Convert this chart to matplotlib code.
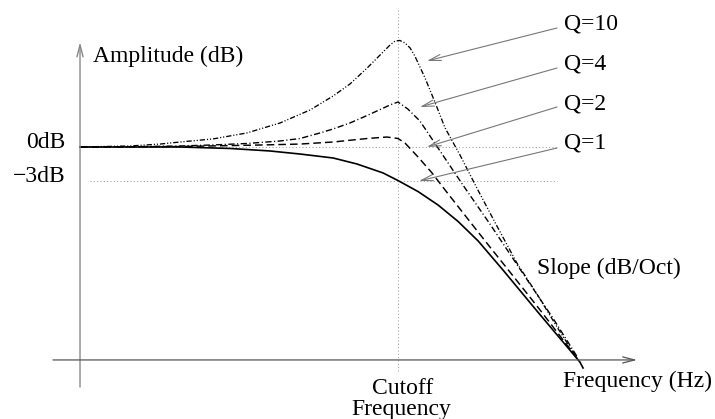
import matplotlib
matplotlib.use("Agg")
import matplotlib.pyplot as plt

plt.rcParams['font.family'] = ['Liberation Serif', 'DejaVu Serif']
plt.rcParams['lines.scale_dashes'] = False

# frequency normalised to cutoff (0 = amplitude axis, 1 = cutoff), amplitude in dB
# values read off the schematic
q1_f = [0.000, 0.314, 0.472, 0.597, 0.692, 0.796, 0.871, 0.953, 1.000, 1.063,
        1.126, 1.189, 1.252, 1.330, 1.437, 1.572, 1.582]
q1_db = [0.00, 0.00, -0.13, -0.35, -0.62, -0.97, -1.50, -2.29, -2.96, -3.93,
         -5.12, -6.57, -8.29, -10.85, -14.47, -18.97, -19.50]

q2_f = [0.000, 0.314, 0.575, 0.692, 0.796, 0.903, 0.965, 1.000, 1.022, 1.063,
        1.107, 1.148, 1.195, 1.242, 1.289, 1.352, 1.437, 1.541, 1.569]
q2_db = [0.00, 0.04, 0.18, 0.26, 0.44, 0.75, 0.88, 0.75, 0.35, -0.88,
         -2.29, -3.79, -5.47, -7.15, -8.82, -11.03, -14.03, -17.82, -18.88]

q4_f = [0.000, 0.157, 0.314, 0.418, 0.525, 0.629, 0.692, 0.755, 0.796, 0.849,
        0.903, 0.975, 1.000, 1.031, 1.069, 1.126, 1.204, 1.289, 1.352, 1.415,
        1.487, 1.566]
q4_db = [0.00, 0.02, 0.09, 0.18, 0.31, 0.53, 0.75, 1.24, 1.59, 2.12,
         2.78, 3.71, 3.97, 3.35, 2.29, -0.09, -3.35, -6.79, -9.44, -12.09,
         -15.09, -18.62]

q10_f = [0.000, 0.157, 0.252, 0.314, 0.418, 0.525, 0.629, 0.723, 0.796, 0.849,
         0.903, 0.953, 0.975, 0.991, 1.006, 1.022, 1.038, 1.053, 1.085, 1.116,
         1.148, 1.195, 1.248, 1.311, 1.374, 1.437, 1.500, 1.566]
q10_db = [0.00, 0.09, 0.26, 0.44, 0.71, 1.24, 2.12, 3.26, 4.50, 5.56,
          6.97, 8.38, 9.00, 9.35, 9.40, 9.18, 8.74, 8.03, 6.09, 3.97,
          1.68, -0.71, -3.62, -6.97, -10.24, -12.97, -15.88, -18.79]

q_labels = ['Q=10', 'Q=4', 'Q=2', 'Q=1']
# arrow tips on the curves
q_tip_f = [1.091, 1.069, 1.091, 1.066]
q_tip_db = [7.59, 3.53, 0.00, -3.00]

fig = plt.figure(figsize=(7.15, 4.19), dpi=100)
ax = fig.add_axes([0, 0, 1, 1])
ax.set_xlim(-0.2516, 1.9969)
ax.set_ylim(-24.0, 12.97)
ax.axis('off')

dot = (0, (0.7, 1.7))
ax.plot([0.006, 1.50], [0, 0], color='#999999', lw=0.75, ls=dot)
ax.plot([0.031, 1.50], [-3, -3], color='#999999', lw=0.75, ls=dot)
ax.plot([1.0, 1.0], [12.09, -19.85], color='#999999', lw=0.75, ls=dot)

# axes with arrow heads
ax.annotate('', xy=(0, 9.26), xytext=(0, -21.18),
            arrowprops=dict(arrowstyle='->,head_length=0.86,head_width=0.22',
                            color='#888888', lw=1.0, shrinkA=0, shrinkB=0,
                            mutation_scale=10))
ax.annotate('', xy=(1.752, -18.79), xytext=(-0.085, -18.79),
            arrowprops=dict(arrowstyle='->,head_length=0.86,head_width=0.22',
                            color='#555555', lw=0.9, shrinkA=0, shrinkB=0,
                            mutation_scale=10))

ax.plot(q1_f, q1_db, color='black', lw=1.2, solid_joinstyle='round')
ax.plot(q2_f, q2_db, color='black', lw=1.05, ls=(0, (5.5, 2.9)))
ax.plot(q4_f, q4_db, color='black', lw=1.0, ls=(0, (4.5, 1.8, 0.8, 1.8)))
ax.plot(q10_f, q10_db, color='black', lw=0.95,
        ls=(0, (3.8, 1.4, 0.8, 1.4, 0.8, 1.4)))

fs = 17
label_db = [10.41, 6.88, 3.35, -0.09]
arrow_start_db = [10.50, 6.97, 3.53, -0.09]
for lab, ldb, sdb, tf, tdb in zip(q_labels, label_db, arrow_start_db, q_tip_f, q_tip_db):
    ax.text(1.522, ldb, lab, fontsize=fs, ha='left', va='baseline')
    ax.annotate('', xy=(tf, tdb), xytext=(1.50, sdb),
                arrowprops=dict(arrowstyle='->,head_length=0.86,head_width=0.22',
                                color='#777777', lw=0.8, shrinkA=0, shrinkB=0,
                                mutation_scale=10))

ax.text(0.041, 7.50, 'Amplitude (dB)', fontsize=fs, ha='left', va='baseline')
ax.text(-0.047, -0.09, '0dB', fontsize=fs, ha='right', va='baseline')
ax.text(-0.047, -3.09, '\u22123dB', fontsize=fs, ha='right', va='baseline')
ax.text(1.437, -11.21, 'Slope (dB/Oct)', fontsize=fs, ha='left', va='baseline')
ax.text(1.519, -21.18, 'Frequency (Hz)', fontsize=fs, ha='left', va='baseline')
ax.text(1.013, -21.79, 'Cutoff', fontsize=fs, ha='center', va='baseline')
ax.text(1.009, -23.65, 'Frequency', fontsize=fs, ha='center', va='baseline')

fig.savefig('out.png', dpi=100)
